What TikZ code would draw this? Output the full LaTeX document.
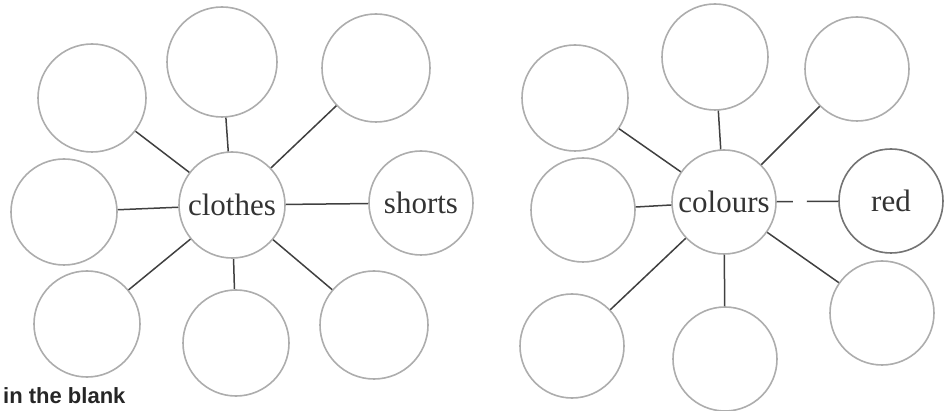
\documentclass[tikz,border=0pt]{standalone}
\usepackage{fontspec}
\setmainfont{Liberation Serif}
\newfontfamily\boldsans{Liberation Sans}
\begin{document}
\begin{tikzpicture}[x=1pt,y=-1pt,
  bubble/.style={circle,draw=black!32,line width=1.6pt,minimum size=106pt,inner sep=0pt,
    text=black!80,font=\fontsize{31}{31}\selectfont},
  link/.style={draw=black!75,line width=1.5pt}]
\useasboundingbox (0,0) rectangle (945,411);
% left diagram
\node[bubble] (c1) at (232,205) {clothes};
\node[bubble,minimum size=110pt] (a1) at (222,62) {};
\node[bubble,minimum size=108pt] (a2) at (92,98) {};
\node[bubble,minimum size=108pt] (a3) at (376,68) {};
\node[bubble] (a4) at (64,212) {};
\node[bubble,minimum size=104pt] (a5) at (421,203) {shorts};
\node[bubble] (a6) at (87,324) {};
\node[bubble] (a7) at (236,343) {};
\node[bubble,minimum size=108pt] (a8) at (374,325) {};
\draw[link] (c1) -- (a1);
\draw[link] (c1) -- (a2);
\draw[link] (c1) -- (a3);
\draw[link] (c1) -- (a4);
\draw[link] (c1) -- (a5);
\draw[link] (c1) -- (a6);
\draw[link] (c1) -- (a7);
\draw[link] (c1) -- (a8);
% right diagram
\node[bubble,minimum size=104pt] (c2) at (724,202) {colours};
\node[bubble] (b1) at (715,57) {};
\node[bubble] (b2) at (575,98) {};
\node[bubble,minimum size=104pt] (b3) at (857,69) {};
\node[bubble,minimum size=104pt] (b4) at (583,210) {};
\node[bubble,minimum size=104pt,draw=black!55] (b5) at (891,201) {red};
\node[bubble,minimum size=104pt] (b6) at (572,346) {};
\node[bubble,minimum size=104pt] (b7) at (725,359) {};
\node[bubble,minimum size=104pt] (b8) at (882,313) {};
\draw[link] (c2) -- (b1);
\draw[link] (c2) -- (b2);
\draw[link] (c2) -- (b3);
\draw[link] (c2) -- (b4);
\draw[link,dash pattern=on 16pt off 14pt on 60pt] (c2) -- (b5);
\draw[link] (c2) -- (b6);
\draw[link] (c2) -- (b7);
\draw[link] (c2) -- (b8);
% caption at the bottom
\node[anchor=base west,inner sep=0pt,text=black!85,font=\boldsans\bfseries\fontsize{22}{22}\selectfont] (cap) at (3,403) {in the blank};
\end{tikzpicture}
\end{document}
